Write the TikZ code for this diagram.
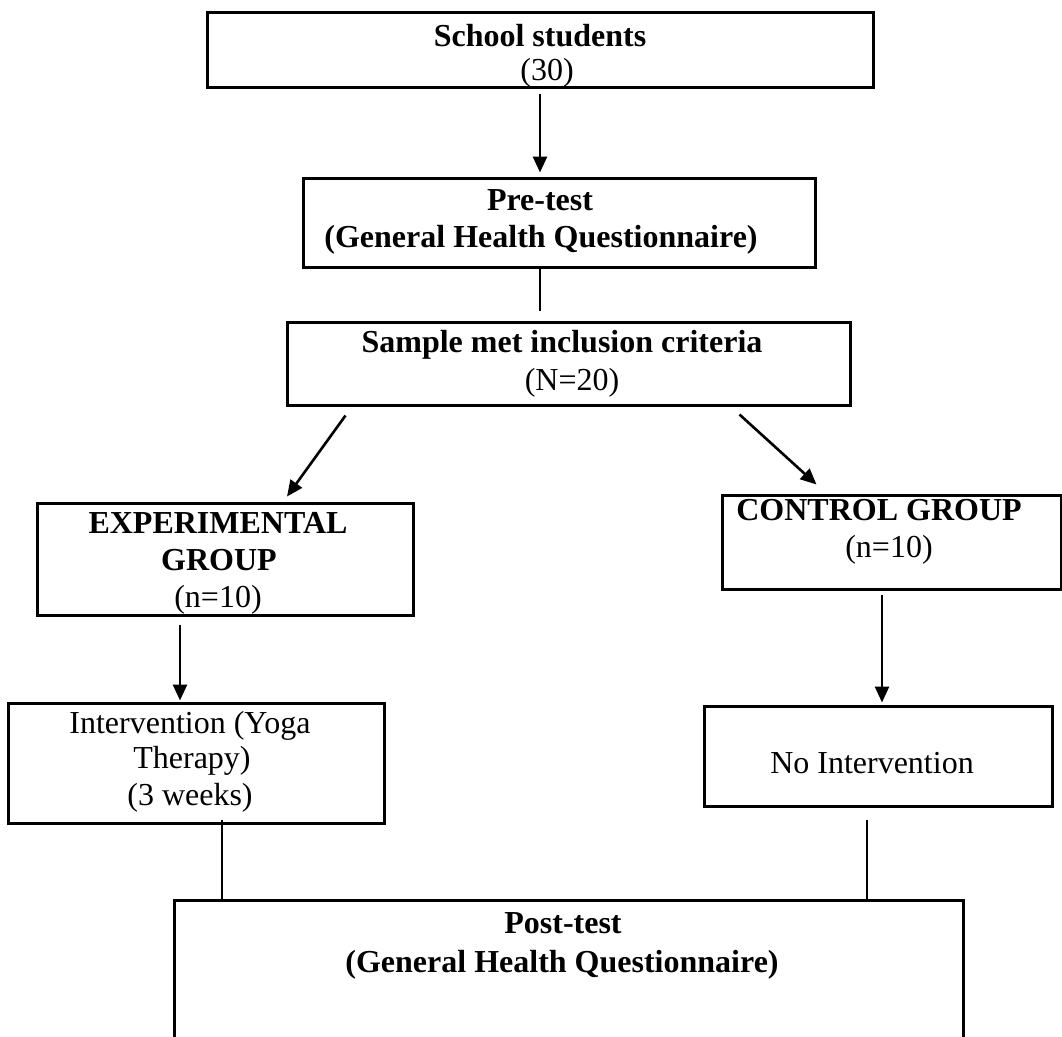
\documentclass[tikz,border=0pt]{standalone}
\usepackage{fontspec}
\setmainfont{Liberation Serif}
\usetikzlibrary{arrows.meta}
\begin{document}
\begin{tikzpicture}[x=1pt,y=-1pt,
  box/.style={draw=black, line width=3pt, inner sep=0pt, rectangle},
  txt/.style={inner sep=0pt, anchor=base, font=\fontsize{32}{37}\selectfont},
  arr/.style={line width=2.6pt, -{Triangle[length=16pt,width=14pt]}},
  ln/.style={line width=2.6pt}]
\useasboundingbox (0,0) rectangle (1062,1036);
\begin{scope}
\clip (0,0) rectangle (1062,1036);
% boxes
\node[box, minimum width=666pt, minimum height=75pt] (b1) at (540,49.5) {};
\node[box, minimum width=512pt, minimum height=89pt] (b2) at (559,222.5) {};
\node[box, minimum width=563pt, minimum height=83pt] (b3) at (568.5,363.5) {};
\node[box, minimum width=376pt, minimum height=112pt] (b4) at (225,559) {};
\node[box, minimum width=339pt, minimum height=94pt] (b5) at (891.5,542) {};
\node[box, minimum width=376pt, minimum height=120pt] (b6) at (196,763) {};
\node[box, minimum width=348pt, minimum height=100pt] (b7) at (878,756) {};
\node[box, minimum width=789pt, minimum height=180pt] (b8) at (568.5,990) {};
\end{scope}
% texts
\node[txt] (t1a) at (540,46) {\textbf{School students}};
\node[txt] (t1b) at (547,80) {(30)};
\node[txt] (t2a) at (540,210) {\textbf{Pre-test}};
\node[txt] (t2b) at (541,247) {\textbf{(General Health Questionnaire)}};
\node[txt] (t3a) at (562,352) {\textbf{Sample met inclusion criteria}};
\node[txt] (t3b) at (572,390) {(N=20)};
\node[txt] (t4a) at (218,533) {\textbf{EXPERIMENTAL}};
\node[txt] (t4b) at (219,570) {\textbf{GROUP}};
\node[txt] (t4c) at (218,607) {(n=10)};
\node[txt] (t5a) at (879,520) {\textbf{CONTROL GROUP}};
\node[txt] (t5b) at (889,557) {(n=10)};
\node[txt] (t6a) at (190,733) {Intervention (Yoga};
\node[txt] (t6b) at (192,768) {Therapy)};
\node[txt] (t6c) at (190,805) {(3 weeks)};
\node[txt] (t7a) at (872,773) {No Intervention};
\node[txt] (t8a) at (563,933) {\textbf{Post-test}};
\node[txt] (t8b) at (562,972) {\textbf{(General Health Questionnaire)}};
% guide coordinates
\coordinate (xm) at (540,0);
\coordinate (xl) at (180,0);
\coordinate (xr) at (882,0);
\coordinate (xa) at (222,0);
\coordinate (xb) at (867,0);
% connectors
\draw[arr, shorten <=5pt, shorten >=4pt] (b1.south -| xm) -- (b2.north -| xm);
\draw[ln, shorten >=10pt] (b2.south -| xm) -- (b3.north -| xm);
\draw[arr] ([shift={(60,9)}]b3.south west) -- ([shift={(62,-5)}]b4.north);
\draw[arr] ([shift={(-112,8)}]b3.south east) -- ([shift={(96,-9)}]b5.north west);
\draw[arr, shorten <=8pt, shorten >=1pt] (b4.south -| xl) -- (b6.north -| xl);
\draw[arr, shorten <=4pt, shorten >=2pt] (b5.south -| xr) -- (b7.north -| xr);
\draw[ln, shorten <=-5pt] (b6.south -| xa) -- (b8.north -| xa);
\draw[ln, shorten <=12pt] (b7.south -| xb) -- (b8.north -| xb);
\end{tikzpicture}
\end{document}
